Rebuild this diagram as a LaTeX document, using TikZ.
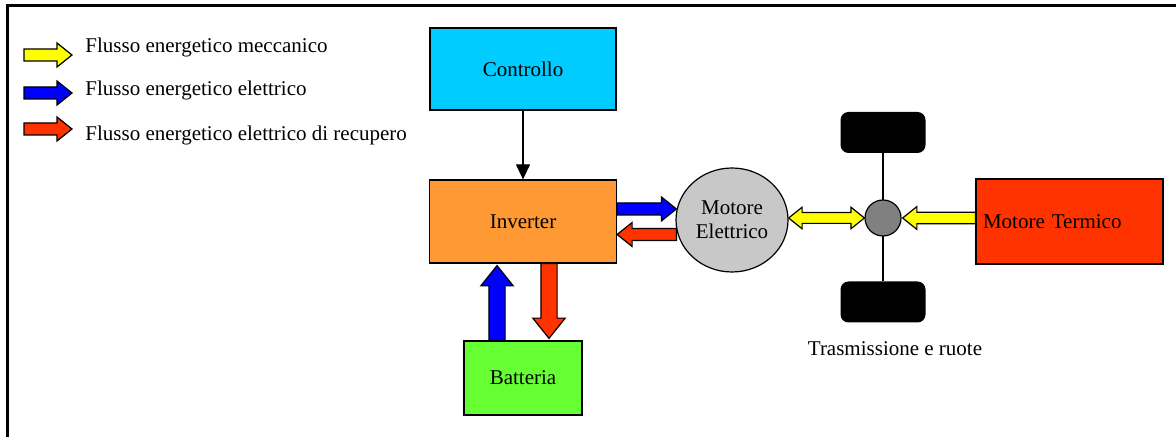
\documentclass[tikz,border=0pt]{standalone}
\usepackage{fontspec}
\setmainfont{Liberation Serif}
\usetikzlibrary{calc,arrows.meta,shapes.geometric}

\definecolor{ctrlcyan}{HTML}{00CCFF}
\definecolor{invorange}{HTML}{FF9933}
\definecolor{batgreen}{HTML}{66FF33}
\definecolor{termred}{HTML}{FF3300}
\definecolor{motgray}{HTML}{C8C8C8}
\definecolor{hubgray}{HTML}{808080}
\definecolor{mecyellow}{HTML}{FFFF00}
\definecolor{elblue}{HTML}{0000FF}
\definecolor{recred}{HTML}{FF3300}

\tikzset{
	block/.style={draw=black, line width=0.6pt, inner sep=2pt},
	wheel/.style={fill=black, rounded corners=4pt, minimum width=42.5pt, minimum height=20.5pt},
	fat/.style={draw=black, line width=0.6pt, line join=miter}
}

% fat arrow: colour, size, from, to
\newcommand\fatarrow[4]{%
	\pgfmathsetlengthmacro\fab{3pt*#2}%
	\pgfmathsetlengthmacro\fah{6pt*#2}%
	\pgfmathsetlengthmacro\fal{7.5pt*#2}%
	\path (#3) coordinate (fa-s) (#4) coordinate (fa-e);
	\path ($(fa-e)!\fal!(fa-s)$) coordinate (fa-h);
	\draw[fat, fill=#1] ($(fa-s)!\fab!90:(fa-e)$) -- ($(fa-h)!\fab!90:(fa-e)$)
		-- ($(fa-h)!\fah!90:(fa-e)$) -- (fa-e) -- ($(fa-h)!\fah!-90:(fa-e)$)
		-- ($(fa-h)!\fab!-90:(fa-e)$) -- ($(fa-s)!\fab!-90:(fa-e)$) -- cycle;
}
% fat arrow with two heads
\newcommand\fatdouble[4]{%
	\pgfmathsetlengthmacro\fab{3pt*#2}%
	\pgfmathsetlengthmacro\fah{6pt*#2}%
	\pgfmathsetlengthmacro\fal{7.5pt*#2}%
	\path (#3) coordinate (fa-s) (#4) coordinate (fa-e);
	\path ($(fa-s)!\fal!(fa-e)$) coordinate (fa-h1) ($(fa-e)!\fal!(fa-s)$) coordinate (fa-h2);
	\draw[fat, fill=#1] (fa-s) -- ($(fa-h1)!\fah!90:(fa-e)$) -- ($(fa-h1)!\fab!90:(fa-e)$)
		-- ($(fa-h2)!\fab!90:(fa-e)$) -- ($(fa-h2)!\fah!90:(fa-e)$) -- (fa-e)
		-- ($(fa-h2)!\fah!-90:(fa-e)$) -- ($(fa-h2)!\fab!-90:(fa-e)$)
		-- ($(fa-h1)!\fab!-90:(fa-e)$) -- ($(fa-h1)!\fah!-90:(fa-e)$) -- cycle;
}

\begin{document}
\begin{tikzpicture}[x=0.5pt, y=-0.5pt, font=\fontsize{10.5}{12}\selectfont]
	\useasboundingbox (0,0) rectangle (1176,437);
	\draw[line width=1.5pt] (7,437) -- (7,6) -- (1176,6);

	% legend
	\node[anchor=west, inner sep=0pt] (legmec) at (85,47) {Flusso energetico meccanico};
	\node[anchor=west, inner sep=0pt] (legel) at (85,90) {Flusso energetico elettrico};
	\node[anchor=west, inner sep=0pt] (legrec) at (85,135) {Flusso energetico elettrico di recupero};
	\coordinate (legmec-a) at (24,55);  \coordinate (legmec-b) at (72,55);
	\coordinate (legel-a) at (24,93);   \coordinate (legel-b) at (72,93);
	\coordinate (legrec-a) at (24,129); \coordinate (legrec-b) at (72,129);
	\fatarrow{mecyellow}{1}{legmec-a}{legmec-b}
	\fatarrow{elblue}{1}{legel-a}{legel-b}
	\fatarrow{recred}{1}{legrec-a}{legrec-b}

	% blocks
	\node[block, fill=ctrlcyan, minimum width=93pt, minimum height=41pt] (ctrl) at (523,69) {Controllo};
	\node[block, fill=invorange, minimum width=93.5pt, minimum height=41.5pt] (inv) at (523,221.5) {Inverter};
	\node[block, fill=batgreen, minimum width=59pt, minimum height=37pt] (bat) at (523,378) {Batteria};
	\node[block, fill=motgray, ellipse, minimum width=56pt, minimum height=52pt, inner sep=0pt, align=center] (mot) at (732,220) {Motore\\Elettrico};
	\node[block, fill=termred, minimum width=93.5pt, minimum height=42.5pt, text width=86.5pt, inner xsep=3.5pt, align=left] (term) at (1069.5,221.5) {Motore Termico};

	% transmission
	\node[wheel] (wtop) at (883,132.5) {};
	\node[wheel] (wbot) at (883,302) {};
	\draw[line width=1.2pt] (wtop.south) -- (wbot.north);
	\node[block, fill=hubgray, circle, minimum size=18pt, inner sep=0pt] (hub) at (883,218) {};
	\node (lbltrasm) at (895,349) {Trasmissione e ruote};

	% flows
	\draw[line width=0.6pt, -{Triangle[width=7pt,length=7.5pt]}] (ctrl) -- (inv);
	\fatarrow{elblue}{1}{$(inv.east)+(0,-12.5)$}{$(mot.west)+(1,-11)$}
	\fatarrow{recred}{1}{$(mot.west)+(1,14.5)$}{$(inv.east)+(0,13)$}
	\fatarrow{elblue}{1.35}{$(bat.north)+(-26,0)$}{$(inv.south)+(-26,2)$}
	\fatarrow{recred}{1.35}{$(inv.south)+(26,0)$}{$(bat.north)+(26,-2)$}
	\fatdouble{mecyellow}{0.9}{$(mot.east |- hub)$}{hub.west}
	\fatarrow{mecyellow}{0.95}{$(term.west |- hub)$}{$(hub.east)+(1,0)$}
\end{tikzpicture}
\end{document}
